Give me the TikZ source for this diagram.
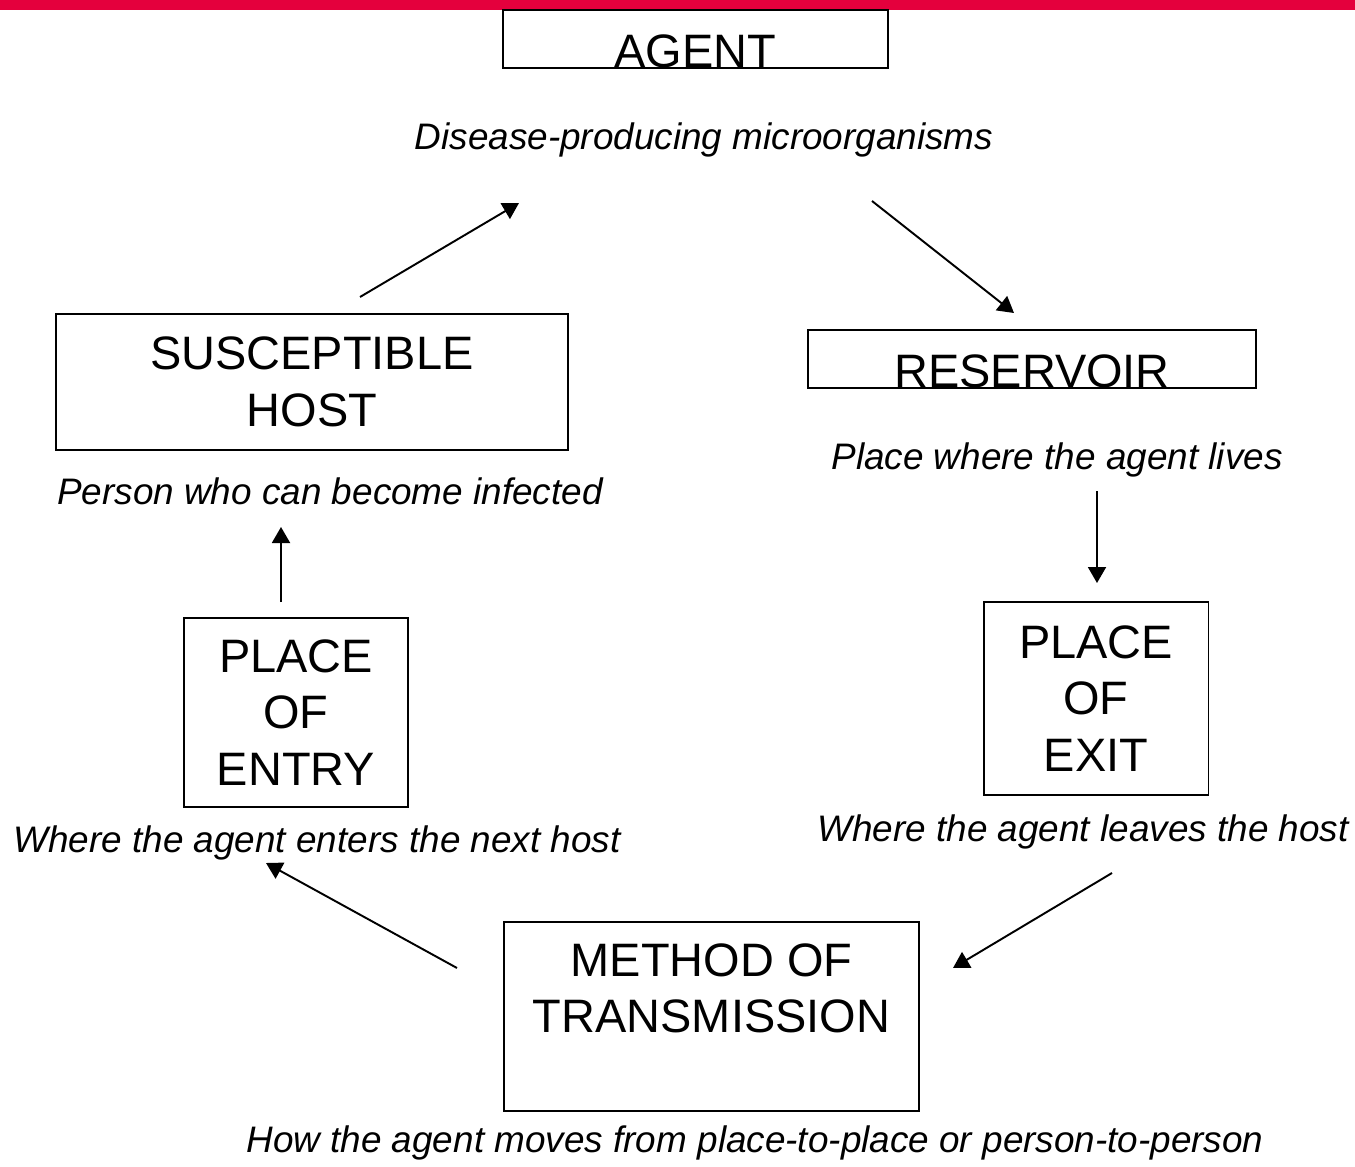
\documentclass[tikz,border=0pt]{standalone}
\usepackage{fontspec}
\setmainfont{Liberation Sans}
\usetikzlibrary{arrows.meta}
\definecolor{barred}{RGB}{228,0,61}

\begin{document}
\begin{tikzpicture}[x=0.02cm,y=-0.02cm,>={Triangle[length=0.32cm,width=0.36cm]},line width=1.1pt,
  main node/.style={draw,rectangle,inner sep=0pt,align=center,font=\fontsize{26.7}{32.2}\selectfont},
  low node/.style={main node,text height=1.16cm,text depth=0pt,minimum height=1.16cm},
  note node/.style={inner sep=0pt,font=\fontsize{21}{25}\selectfont\itshape}]
            \useasboundingbox (0,0) rectangle (1355,1166);
            \fill[barred] (0,0) rectangle (1355,10);

            % boxes
            \node[low node,minimum width=7.7cm] (agent) at (695.5,39) {AGENT};
            \node[low node,minimum width=8.96cm] (reservoir) at (1032,359) {RESERVOIR};
            \node[main node,minimum width=10.24cm,minimum height=2.72cm] (host) at (312,382) {SUSCEPTIBLE\\HOST};
            \node[main node,minimum width=4.48cm,minimum height=3.78cm] (entry) at (296,712.5) {PLACE\\OF\\ENTRY};
            \node[main node,minimum width=4.5cm,minimum height=3.86cm] (exit) at (1096,698.5) {PLACE\\OF\\EXIT};
            \node[main node,minimum width=8.3cm,minimum height=3.78cm] (method) at (711.5,1016.5) {METHOD OF\\TRANSMISSION\\~};

            % notes
            \node[note node] (agentnote) at (704,140) {Disease-producing microorganisms};
            \node[note node] (reservoirnote) at (1057,460) {Place where the agent lives};
            \node[note node] (hostnote) at (330,491) {Person who can become infected};
            \node[note node] (exitnote) at (1083,832) {Where the agent leaves the host};
            \node[note node] (entrynote) at (317,843) {Where the agent enters the next host};
            \node[note node] (methodnote) at (755,1143) {How the agent moves from place-to-place or person-to-person};

            % arrow ends
            \coordinate (hostout) at (360,297);
            \coordinate (agentin) at (519,203);
            \coordinate (agentout) at (872,201);
            \coordinate (reservoirin) at (1014,313);
            \coordinate (reservoirout) at (1097,491);
            \coordinate (exitin) at (1097,583);
            \coordinate (exitout) at (1112,873);
            \coordinate (methodin) at (953,968);
            \coordinate (methodout) at (457,968);
            \coordinate (entryin) at (266,863);
            \coordinate (entryout) at (281,602);
            \coordinate (hostin) at (281,527);

            \path[->]
                (hostout) edge (agentin)
                (agentout) edge (reservoirin)
                (reservoirout) edge (exitin)
                (exitout) edge (methodin)
                (methodout) edge (entryin)
                (entryout) edge (hostin)
                ;
        \end{tikzpicture}
\end{document}
